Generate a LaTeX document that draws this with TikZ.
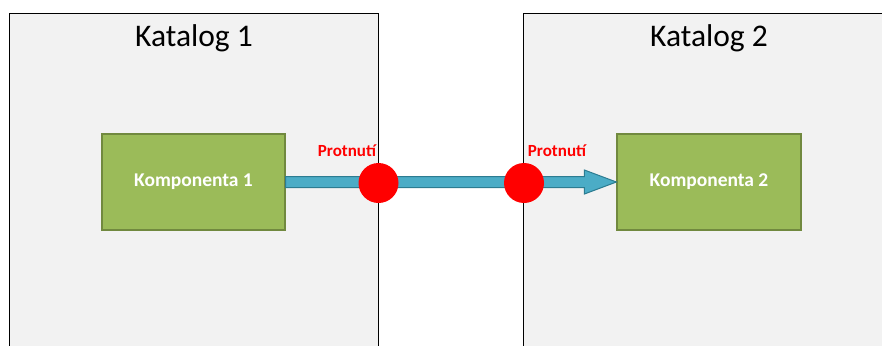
\documentclass[tikz,border=0pt]{standalone}
\usepackage{fontspec}
\setmainfont{Carlito}
\usetikzlibrary{calc}
\definecolor{catfill}{HTML}{F2F2F2}
\definecolor{compfill}{HTML}{9BBB59}
\definecolor{compline}{HTML}{71893F}
\definecolor{arrfill}{HTML}{4BACC6}
\definecolor{arrline}{HTML}{2C7C91}
\definecolor{hitred}{HTML}{FF0000}
\tikzset{
  catbox/.style={draw=black, line width=1.1pt, fill=catfill, inner sep=0pt, anchor=north west},
  cattitle/.style={font=\fontsize{31.5}{36}\selectfont, text=black, inner sep=0pt},
  compbox/.style={draw=compline, line width=1.2pt, fill=compfill, inner sep=0pt,
    minimum height=96pt, text=white, font=\bfseries\fontsize{19.5}{22}\selectfont},
  hit/.style={circle, fill=hitred, minimum size=40pt, inner sep=0pt},
  hitlabel/.style={text=hitred, font=\bfseries\fontsize{17}{19}\selectfont, inner sep=0pt},
  connector/.style={draw=arrline, line width=1pt, fill=arrfill, line join=miter}
}
\begin{document}
\begin{tikzpicture}[x=1pt,y=-1pt]
\useasboundingbox (0,0) rectangle (882,345);
\clip (0,0) rectangle (882,345);
\node[catbox, minimum width=369.5pt, minimum height=360pt] (k1) at (8.5,13) {};
\node[catbox, minimum width=372pt, minimum height=360pt] (k2) at (523,13) {};
\node[cattitle] (t1) at (194,38) {Katalog 1};
\node[cattitle] (t2) at (709,38) {Katalog 2};
\node[compbox, minimum width=183pt] (c1) at (193.5,182) {Komponenta 1};
\node[compbox, minimum width=184pt] (c2) at (709,182) {Komponenta 2};
\path[connector]
  ($(c1.east)+(0,-5.5)$) -- ($(c2.west)+(-32,-5.5)$) -- ($(c2.west)+(-32,-12)$)
  -- (c2.west) -- ($(c2.west)+(-32,12)$) -- ($(c2.west)+(-32,5.5)$)
  -- ($(c1.east)+(0,5.5)$) -- cycle;
\node[hit] (h1) at (378.5,183) {};
\node[hit] (h2) at (524,183) {};
\node[hitlabel] (l1) at (347,151) {Protnutí};
\node[hitlabel] (l2) at (557,151) {Protnutí};
\end{tikzpicture}
\end{document}
